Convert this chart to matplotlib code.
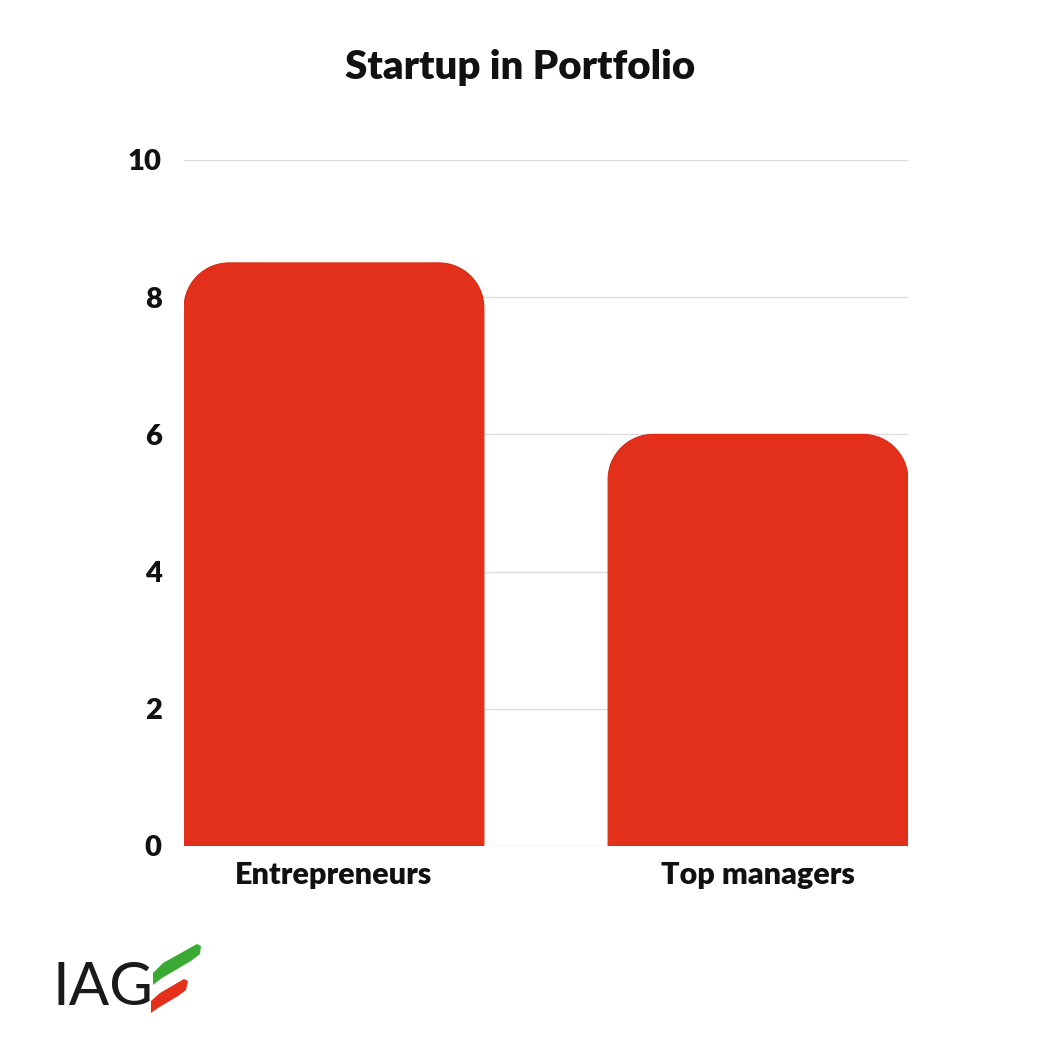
import matplotlib
matplotlib.use("Agg")
import matplotlib.pyplot as plt
from matplotlib.path import Path
from matplotlib.patches import PathPatch, Polygon

categories = ["Entrepreneurs", "Top managers"]
values = [8.5, 6]
yticks = [0, 2, 4, 6, 8, 10]
title = "Startup in Portfolio"

BAR_COLOR = "#E3301A"
FONT = ["Lato", "DejaVu Sans"]

fig = plt.figure(figsize=(10.4, 10.4), dpi=100)
fig.patch.set_facecolor("white")
ax = fig.add_axes([0.177, 1 - 846 / 1040, 0.873 - 0.177, (846 - 160) / 1040])

x = list(range(len(categories)))
bw = 0.707
bars = ax.bar(x, values, width=bw, color=BAR_COLOR, zorder=3)
ax.set_xlim(-bw / 2, len(categories) - 1 + bw / 2)
ax.set_ylim(0, 10)

fig.canvas.draw()
inv = ax.transData.inverted()
p0 = inv.transform((0, 0))
p1 = inv.transform((45, 45))
rx, ry = p1[0] - p0[0], p1[1] - p0[1]
k = 0.5523
for b in bars:
    x0, w, h = b.get_x(), b.get_width(), b.get_height()
    x1 = x0 + w
    verts = [
        (x0, 0), (x0, h - ry),
        (x0, h - ry + k * ry), (x0 + rx - k * rx, h), (x0 + rx, h),
        (x1 - rx, h),
        (x1 - rx + k * rx, h), (x1, h - ry + k * ry), (x1, h - ry),
        (x1, 0), (x0, 0),
    ]
    codes = [Path.MOVETO, Path.LINETO,
             Path.CURVE4, Path.CURVE4, Path.CURVE4,
             Path.LINETO,
             Path.CURVE4, Path.CURVE4, Path.CURVE4,
             Path.LINETO, Path.CLOSEPOLY]
    patch = PathPatch(Path(verts, codes), facecolor=BAR_COLOR, edgecolor="#D92A15",
                      linewidth=0.8, zorder=3)
    ax.add_patch(patch)
    b.set_visible(False)

ax.set_yticks(yticks)
ax.set_yticklabels([str(t) for t in yticks], fontsize=21, fontweight="heavy",
                   family=FONT, color="#111111")
ax.set_xticks(x)
ax.set_xticklabels(categories, fontsize=22, fontweight="heavy", family=FONT,
                   color="#111111")
ax.tick_params(axis="both", length=0)
ax.tick_params(axis="y", pad=16)
ax.tick_params(axis="x", pad=11)
ax.grid(axis="y", color="#DDDDDD", linewidth=1, zorder=0)
for s in ax.spines.values():
    s.set_visible(False)

fig.text(0.5, 1 - 68 / 1040, title, ha="center", va="center", fontsize=29,
         fontweight="heavy", family=FONT, color="#111111")

# logo
fig.text(53 / 1040, 1 - 988 / 1040, "IAG", ha="left", va="center", fontsize=43,
         fontweight="normal", family=["Lato", "DejaVu Sans"], color="#1a1a1a")

def px(pts):
    return [(a / 1040, 1 - b / 1040) for a, b in pts]

green = [(153, 985), (153, 973), (163, 963), (197, 944), (201, 946), (200, 954),
         (191, 961), (162, 978)]
red = [(151, 1013), (151, 1001), (160, 993), (184, 979), (188, 981), (186, 990),
       (178, 996), (158, 1008)]
fig.patches.append(Polygon(px(green), closed=True, transform=fig.transFigure,
                           facecolor="#3AAA35", edgecolor="none", figure=fig))
fig.patches.append(Polygon(px(red), closed=True, transform=fig.transFigure,
                           facecolor="#E3301A", edgecolor="none", figure=fig))

fig.savefig("out.png", dpi=100, facecolor="white")
